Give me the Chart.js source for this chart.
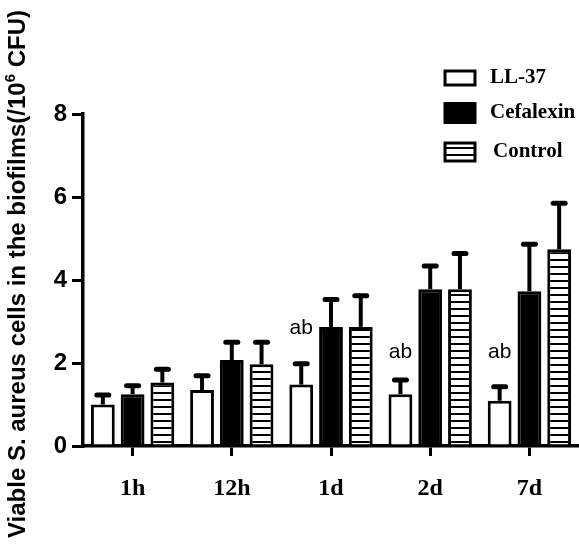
<!DOCTYPE html>
<html>
<head>
<meta charset="utf-8">
<script src="https://cdn.jsdelivr.net/npm/chart.js@4/dist/chart.umd.min.js"></script>
<style>
html,body{margin:0;padding:0;background:#fff;}
canvas{display:block;}
</style>
</head>
<body>
<canvas id="c" width="579" height="550"></canvas>
<script>
const categories = ['1h', '12h', '1d', '2d', '7d'];
const seriesNames = ['LL-37', 'Cefalexin', 'Control'];
const ll37 = [1.00, 1.35, 1.48, 1.25, 1.09];
const ll37Err = [0.23, 0.34, 0.50, 0.34, 0.34];
const cefalexin = [1.25, 2.07, 2.87, 3.78, 3.73];
const cefalexinErr = [0.20, 0.43, 0.66, 0.56, 1.13];
const control = [1.53, 1.97, 2.87, 3.78, 4.74];
const controlErr = [0.32, 0.53, 0.75, 0.86, 1.11];
const sigText = [null, null, 'ab', 'ab', 'ab'];
const sigY = [null, null, 2.85, 2.27, 2.27];
const yMin = 0, yMax = 8, yStep = 2;

// stripe pattern for Control
const pc = document.createElement('canvas');
pc.width = 8; pc.height = 7;
const pctx = pc.getContext('2d');
pctx.fillStyle = '#fff'; pctx.fillRect(0, 0, 8, 7);
pctx.fillStyle = '#000'; pctx.fillRect(0, 0, 8, 2);
const ctx0 = document.getElementById('c').getContext('2d');
const stripes = ctx0.createPattern(pc, 'repeat');

const errs = [ll37Err, cefalexinErr, controlErr];

const errorBars = {
  id: 'errorBars',
  afterDatasetsDraw(chart) {
    const ctx = chart.ctx;
    const ys = chart.scales.y;
    ctx.save();
    ctx.strokeStyle = '#000';
    chart.data.datasets.forEach((ds, i) => {
      const meta = chart.getDatasetMeta(i);
      meta.data.forEach((bar, j) => {
        const v = ds.data[j];
        const yc = ys.getPixelForValue(v + errs[i][j]);
        ctx.lineCap = 'butt';
        ctx.lineWidth = 4;
        ctx.beginPath();
        ctx.moveTo(bar.x, bar.y);
        ctx.lineTo(bar.x, yc);
        ctx.stroke();
        ctx.lineCap = 'round';
        ctx.lineWidth = 5;
        ctx.beginPath();
        ctx.moveTo(bar.x - 6, yc);
        ctx.lineTo(bar.x + 6, yc);
        ctx.stroke();
      });
    });
    // significance labels over LL-37 bars
    const meta0 = chart.getDatasetMeta(0);
    ctx.fillStyle = '#000';
    ctx.font = '21px "Liberation Sans", Arial, sans-serif';
    ctx.textAlign = 'center';
    ctx.textBaseline = 'middle';
    sigText.forEach((t, j) => {
      if (!t) return;
      ctx.fillText(t, meta0.data[j].x, ys.getPixelForValue(sigY[j]));
    });
    ctx.restore();
  }
};

const customDecor = {
  id: 'customDecor',
  afterDraw(chart) {
    const ctx = chart.ctx;
    ctx.save();
    // Y axis title with superscript
    ctx.translate(18, 274);
    ctx.rotate(-Math.PI / 2);
    ctx.fillStyle = '#000';
    ctx.textBaseline = 'middle';
    const mainFont = 'bold 24px "Liberation Sans", Arial, sans-serif';
    const supFont = 'bold 15px "Liberation Sans", Arial, sans-serif';
    const p1 = 'Viable S. aureus cells in the biofilms(/10';
    const p2 = '6';
    const p3 = ' CFU)';
    ctx.font = mainFont; const w1 = ctx.measureText(p1).width; const w3 = ctx.measureText(p3).width;
    ctx.font = supFont; const w2 = ctx.measureText(p2).width;
    let x = -(w1 + w2 + w3) / 2;
    ctx.textAlign = 'left';
    ctx.font = mainFont; ctx.fillText(p1, x, 0); x += w1;
    ctx.font = supFont; ctx.fillText(p2, x, -7); x += w2;
    ctx.font = mainFont; ctx.fillText(p3, x, 0);
    ctx.restore();

    // Legend
    ctx.save();
    const items = [
      {fill: '#fff', y: 78, h: 14},
      {fill: '#000', y: 113, h: 19},
      {fill: stripes, y: 152, h: 18}
    ];
    ctx.font = 'bold 21px "Liberation Serif", "Times New Roman", serif';
    ctx.textBaseline = 'middle';
    ctx.textAlign = 'left';
    items.forEach((it, i) => {
      const bx = 445, bw = 30;
      ctx.fillStyle = it.fill;
      ctx.fillRect(bx, it.y - it.h / 2, bw, it.h);
      ctx.lineWidth = 3;
      ctx.strokeStyle = '#000';
      ctx.strokeRect(bx, it.y - it.h / 2, bw, it.h);
      ctx.fillStyle = '#000';
      ctx.fillText(seriesNames[i], i === 2 ? 493 : 490, it.y);
    });
    ctx.restore();
  }
};

new Chart(document.getElementById('c'), {
  type: 'bar',
  data: {
    labels: categories,
    datasets: [
      {label: seriesNames[0], data: ll37, backgroundColor: '#fff', borderColor: '#000', borderWidth: 3},
      {label: seriesNames[1], data: cefalexin, backgroundColor: '#000', borderColor: '#000', borderWidth: 3},
      {label: seriesNames[2], data: control, backgroundColor: stripes, borderColor: '#000', borderWidth: 3}
    ]
  },
  options: {
    responsive: false,
    animation: false,
    devicePixelRatio: 1,
    categoryPercentage: 0.9,
    barPercentage: 0.8,
    layout: {padding: {top: 114, right: 0, left: 0, bottom: 0}},
    plugins: {legend: {display: false}, tooltip: {enabled: false}},
    scales: {
      x: {
        grid: {display: true, drawOnChartArea: false, drawTicks: true, tickLength: 10, lineWidth: 3, color: '#000', offset: false},
        border: {display: true, width: 3.5, color: '#000'},
        ticks: {color: '#000', padding: 18, font: {family: '"Liberation Serif", "Times New Roman", serif', size: 24, weight: 'bold'}},
        afterFit(s) { s.height = 104; }
      },
      y: {
        min: yMin, max: yMax,
        grid: {display: true, drawOnChartArea: false, drawTicks: true, tickLength: 11, lineWidth: 3, color: '#000'},
        border: {display: true, width: 3.5, color: '#000'},
        ticks: {stepSize: yStep, color: '#000', padding: 5, font: {family: '"Liberation Sans", Arial, sans-serif', size: 24, weight: 'bold'}},
        afterFit(s) { s.width = 83; }
      }
    }
  },
  plugins: [errorBars, customDecor]
});
</script>
</body>
</html>
